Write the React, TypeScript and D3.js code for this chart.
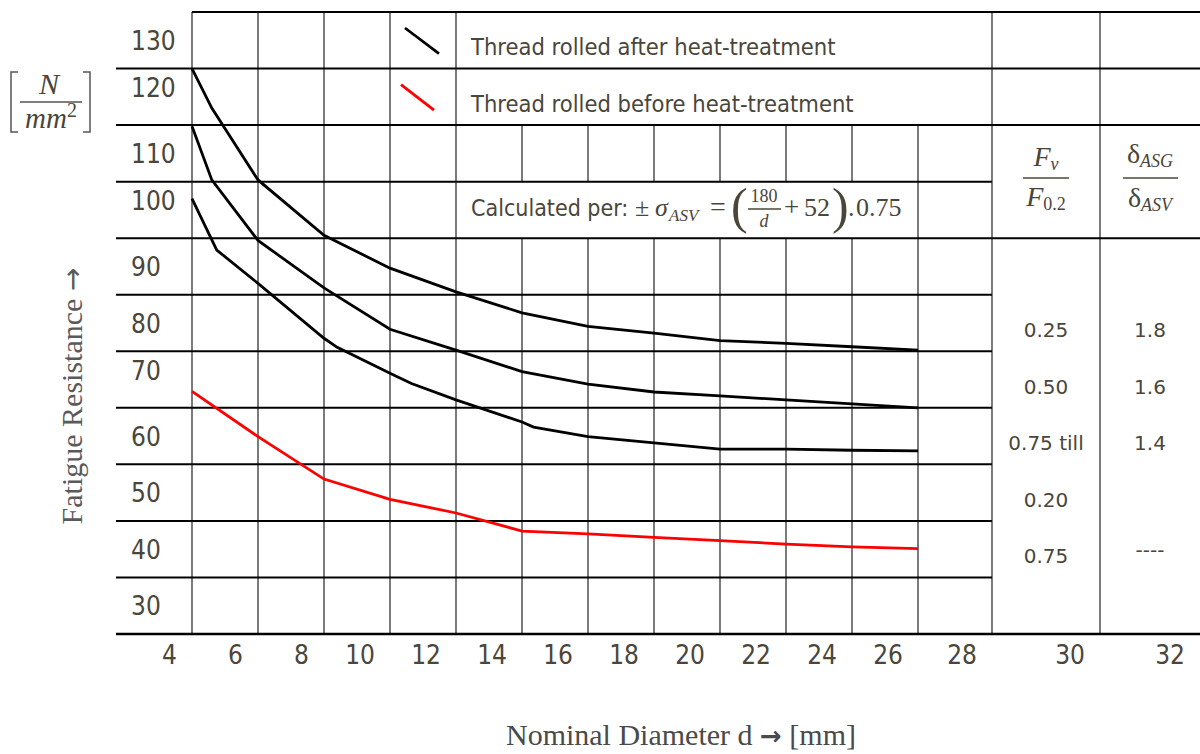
import React from "react";
import * as d3 from "d3";

// y tick labels (N/mm^2) and x tick labels (mm)
const yTicks = [130, 120, 110, 100, 90, 80, 70, 60, 50, 40, 30];
const xTicks = [4, 6, 8, 10, 12, 14, 16, 18, 20, 22, 24, 26, 28, 30, 32];

// thread rolled after heat-treatment (three curves)
const afterHighD = [4, 4.6, 6, 8, 10, 12, 14, 16, 18, 20, 22, 24, 26];
const afterHigh = [130, 123, 110.3, 100.5, 94.7, 90.5, 86.8, 84.4, 83.2, 81.9, 81.4, 80.8, 80.2];
const afterMidD = [4, 4.6, 6, 8, 10, 12, 14, 16, 18, 20, 22, 24, 26];
const afterMid = [119.8, 110.3, 99.6, 91.2, 83.9, 80.2, 76.4, 74.2, 72.8, 72.1, 71.4, 70.7, 70.0];
const afterLowD = [4, 4.75, 6, 8, 8.4, 10, 10.65, 12, 14, 14.35, 16, 18, 20, 22, 24, 26];
const afterLow = [107, 97.9, 92, 82.3, 80.7, 76.1, 74.3, 71.4, 67.5, 66.6, 64.9, 63.8, 62.7, 62.7, 62.5, 62.4];

// thread rolled before heat-treatment
const beforeD = [4, 6, 8, 10, 12, 14, 16, 18, 20, 22, 24, 26];
const before = [72.9, 64.9, 57.4, 53.8, 51.4, 48.2, 47.7, 47.1, 46.5, 45.9, 45.4, 45.1];

// side table
const fvRatio = ["0.25", "0.50", "0.75 till", "0.20", "0.75"];
const deltaRatio = ["1.8", "1.6", "1.4", "", "----"];
const tableRows = [85, 75, 65, 55, 45];

const legendItems = ["Thread rolled after heat-treatment", "Thread rolled before heat-treatment"];

const TEXT = "#4a4639";
const SANS = "'DejaVu Sans Condensed', 'DejaVu Sans', sans-serif";
const MATH = "'Liberation Serif', 'DejaVu Serif', serif";
const ARROW = "'DejaVu Sans', sans-serif";

export default function App() {
  const width = 1200;
  const height = 754;

  const x = d3.scaleLinear().domain([4, 26, 28, 30, 32]).range([192, 918, 992, 1100, 1200]);
  const y = d3.scaleLinear().domain([140, 30]).range([12, 634]);

  const left = x(4) - 76;
  const line = d3
    .line<[number, number]>()
    .x((d) => x(d[0]))
    .y((d) => y(d[1]));

  const series = [
    { d: afterHighD, v: afterHigh, color: "#000" },
    { d: afterMidD, v: afterMid, color: "#000" },
    { d: afterLowD, v: afterLow, color: "#000" },
    { d: beforeD, v: before, color: "#ff0000" },
  ];

  // horizontal grid
  const wide = new Set([140, 130, 120, 100, 30]);
  const hLines = [140, ...yTicks].map((v) => ({
    v,
    x1: v === 140 ? x(4) : left,
    x2: wide.has(v) ? width : x(28),
  }));

  // vertical grid, with merged cells for legend and formula
  const vLines: { v: number; y1: number; y2: number }[] = [];
  xTicks
    .filter((v) => v <= 30)
    .forEach((v) => {
      if (v >= 14 && v <= 24) {
        vLines.push({ v, y1: y(120), y2: y(110) });
        vLines.push({ v, y1: y(100), y2: y(30) });
      } else if (v === 26) {
        vLines.push({ v, y1: y(120), y2: y(30) });
      } else {
        vLines.push({ v, y1: y(140), y2: y(30) });
      }
    });

  const lifted = new Set([120, 100, 70]);
  const col1 = (x(28) + x(30)) / 2;
  const col2 = (x(30) + x(32)) / 2;
  const fx = x(12) + 15;

  return (
    <svg
      width={width}
      height={height}
      style={{ position: "absolute", left: 0, top: 0, background: "#fff" }}
    >
      {vLines.map((l, i) => (
        <line key={"v" + i} x1={x(l.v)} x2={x(l.v)} y1={l.y1} y2={l.y2} stroke="#333" strokeWidth={1.3} />
      ))}
      {hLines.map((l) => (
        <line
          key={"h" + l.v}
          x1={l.x1}
          x2={l.x2}
          y1={y(l.v)}
          y2={y(l.v)}
          stroke="#000"
          strokeWidth={l.v === 30 ? 2.6 : 2}
        />
      ))}

      {series.map((s, i) => (
        <path
          key={"s" + i}
          d={line(s.d.map((d, j) => [d, s.v[j]] as [number, number])) || ""}
          fill="none"
          stroke={s.color}
          strokeWidth={2.8}
        />
      ))}

      {/* legend */}
      {legendItems.map((t, i) => {
        const top = y(140 - i * 10);
        const bottom = y(130 - i * 10);
        const cx = (x(10) + x(12)) / 2;
        return (
          <g key={"lg" + i}>
            <line
              x1={cx - 18 - i * 4}
              x2={cx + 16 - i * 5}
              y1={top + 16}
              y2={bottom - 15}
              stroke={i === 0 ? "#000" : "#ff0000"}
              strokeWidth={2.8}
            />
            <text x={fx} y={bottom - 13.5} fontFamily={SANS} fontSize={23.5} fill={TEXT}>
              {t}
            </text>
          </g>
        );
      })}

      {/* formula */}
      <g fill={TEXT}>
        <text x={fx} y={216} fontFamily={SANS} fontSize={23}>
          Calculated per:
        </text>
        <text x={635} y={216} fontFamily={MATH} fontSize={26}>
          ±
        </text>
        <text x={655} y={216} fontFamily={MATH} fontSize={26} fontStyle="italic">
          σ
        </text>
        <text x={669} y={221} fontFamily={MATH} fontSize={17} fontStyle="italic">
          ASV
        </text>
        <text x={710} y={216} fontFamily={MATH} fontSize={28}>
          =
        </text>
        <text x={731} y={223} fontFamily={MATH} fontSize={50}>
          (
        </text>
        <text x={764} y={202} fontFamily={MATH} fontSize={18} textAnchor="middle">
          180
        </text>
        <line x1={748} x2={781} y1={209} y2={209} stroke={TEXT} strokeWidth={1.3} />
        <text x={764} y={227} fontFamily={MATH} fontSize={18} fontStyle="italic" textAnchor="middle">
          d
        </text>
        <text x={784} y={216} fontFamily={MATH} fontSize={27}>
          +
        </text>
        <text x={804} y={216} fontFamily={MATH} fontSize={26}>
          52
        </text>
        <text x={832} y={223} fontFamily={MATH} fontSize={50}>
          )
        </text>
        <text x={848} y={216} fontFamily={MATH} fontSize={26}>
          .
        </text>
        <text x={856} y={216} fontFamily={MATH} fontSize={26}>
          0.75
        </text>
      </g>

      {/* y tick labels */}
      {yTicks.map((v) => (
        <text
          key={"yt" + v}
          x={131}
          y={y(v + 5) + 9.5 - (lifted.has(v) ? 9 : 0)}
          fontFamily={SANS}
          fontSize={26}
          fill={TEXT}
        >
          {v}
        </text>
      ))}

      {/* x tick labels */}
      {xTicks.map((v) => (
        <text
          key={"xt" + v}
          x={x(v) - 15}
          y={y(30) + 30}
          textAnchor="end"
          fontFamily={SANS}
          fontSize={26}
          fill={TEXT}
        >
          {v}
        </text>
      ))}

      {/* side table header */}
      <g fill={TEXT} fontFamily={MATH} fontStyle="italic" textAnchor="middle">
        <text x={col1} y={166} fontSize={28}>
          F<tspan fontSize={18} dy={4}>v</tspan>
        </text>
        <line x1={col1 - 23} x2={col1 + 23} y1={178} y2={178} stroke={TEXT} strokeWidth={1.6} />
        <text x={col1} y={206} fontSize={28}>
          F
          <tspan fontSize={18} dy={4} fontStyle="normal">
            0.2
          </tspan>
        </text>
        <text x={col2} y={163} fontSize={28} fontStyle="normal">
          δ<tspan fontSize={18} dy={4} fontStyle="italic">ASG</tspan>
        </text>
        <line x1={col2 - 27} x2={col2 + 28} y1={178} y2={178} stroke={TEXT} strokeWidth={1.6} />
        <text x={col2} y={207} fontSize={28} fontStyle="normal">
          δ<tspan fontSize={18} dy={4} fontStyle="italic">ASV</tspan>
        </text>
      </g>

      {/* side table values */}
      {tableRows.map((r, i) => (
        <g key={"tr" + i} fontFamily="'DejaVu Sans', sans-serif" fontSize={20} fill={TEXT} textAnchor="middle">
          <text x={col1} y={y(r) + 14}>
            {fvRatio[i]}
          </text>
          <text x={col2} y={y(r) + 14 - (deltaRatio[i] === "----" ? 6 : 0)}>{deltaRatio[i]}</text>
        </g>
      ))}

      {/* unit */}
      <g stroke="#555" strokeWidth={1.5} fill="none">
        <path d="M18,72 H11 V132 H18" />
        <path d="M83,72 H90 V132 H83" />
        <line x1={20} x2={82} y1={102} y2={102} />
      </g>
      <g fill={TEXT} fontFamily={MATH} fontStyle="italic" textAnchor="middle">
        <text x={49} y={94} fontSize={30}>
          N
        </text>
        <text x={51} y={128} fontSize={29}>
          mm<tspan fontSize={20} dy={-11} fontStyle="normal">2</tspan>
        </text>
      </g>

      {/* axis titles */}
      <text
        transform="translate(82,396) rotate(-90)"
        textAnchor="middle"
        fontFamily={MATH}
        fontSize={30}
        fill="#5a5a5a"
      >
        Fatigue Resistance{" "}
        <tspan fontFamily={ARROW} fontSize={28}>
          →
        </tspan>
      </text>
      <text x={681} y={745} textAnchor="middle" fontFamily={MATH} fontSize={30} fill="#4a4a4a">
        Nominal Diameter d{" "}
        <tspan fontFamily={ARROW} fontWeight="bold" fontSize={26}>
          →
        </tspan>{" "}
        [mm]
      </text>
    </svg>
  );
}
